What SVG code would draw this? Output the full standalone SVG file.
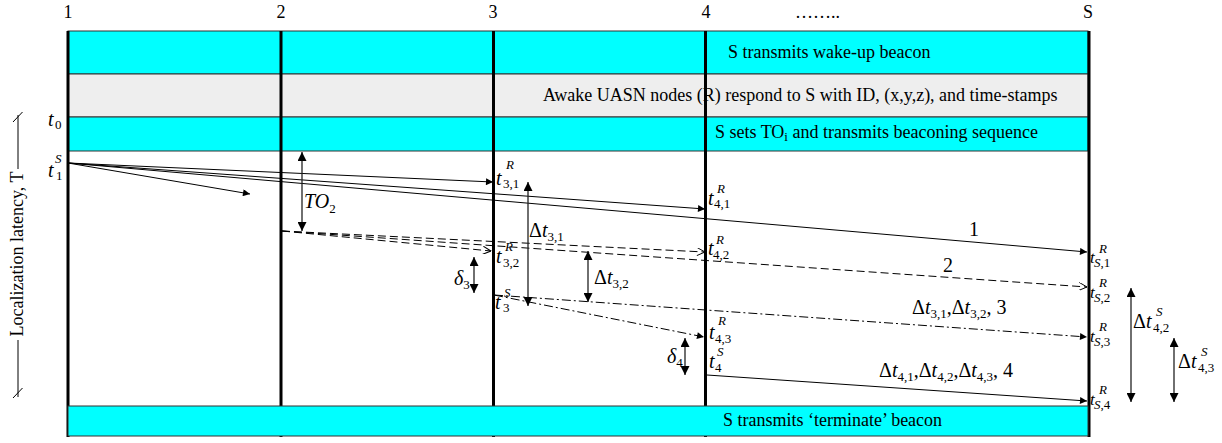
<svg xmlns="http://www.w3.org/2000/svg" width="1222" height="443" viewBox="0 0 1222 443">
<style>
text{font-family:"Liberation Serif","Times New Roman",serif;fill:#000}
.bc{fill:#00FFFF;stroke:#333;stroke-width:1}
.bg{fill:#EEEEEE;stroke:#333;stroke-width:1}
.vl{stroke:#000;stroke-width:3}
.ln{stroke:#000;stroke-width:1;fill:none}
.da{stroke-dasharray:8 4}
.dd{stroke-dasharray:9 3 2 3}
.va{stroke:#222;stroke-width:1.3;fill:none;marker-start:url(#vh);marker-end:url(#vh)}
.bt{font-size:18px}
.hd{font-size:18px;text-anchor:middle}
.it{font-style:italic}
.lb{font-size:20px}
.lr{font-size:17px}
.sm{font-size:13px}
</style>
<defs>
<marker id="af" viewBox="0 0 10 10" refX="10" refY="5" markerWidth="9" markerHeight="7" orient="auto" markerUnits="userSpaceOnUse"><path d="M0,0 L10,5 L0,10 z" fill="#000"/></marker>
<marker id="ao" viewBox="0 0 10 10" refX="10" refY="5" markerWidth="9" markerHeight="8" orient="auto" markerUnits="userSpaceOnUse"><path d="M0,0 L10,5 L0,10" fill="none" stroke="#000" stroke-width="1.2"/></marker>
<marker id="vh" viewBox="0 0 10 10" refX="10" refY="5" markerWidth="11" markerHeight="9" orient="auto-start-reverse" markerUnits="userSpaceOnUse"><path d="M0,0 L10,5 L0,10 z" fill="#000"/></marker>
</defs>

<g id="headers">
<text class="hd" x="68" y="18">1</text>
<text class="hd" x="281" y="18">2</text>
<text class="hd" x="493" y="18">3</text>
<text class="hd" x="706" y="18">4</text>
<text x="795" y="18" style="font-size:18px">……..</text>
<text class="hd" x="1088" y="18">S</text>
</g>

<g id="top-bands">
<rect class="bc" x="68" y="31" width="1020" height="43"/>
<rect class="bg" x="68" y="74" width="1020" height="43"/>
<rect class="bc" x="68" y="117" width="1020" height="34"/>
<text class="bt" x="728" y="58">S transmits wake-up beacon</text>
<text class="bt" x="543" y="101">Awake UASN nodes (R) respond to S with ID, (x,y,z), and time-stamps</text>
<text class="bt" x="715" y="138">S sets TO<tspan class="sm" dy="3">i</tspan><tspan dy="-3"> and transmits beaconing sequence</tspan></text>
</g>

<g id="node-lines">
<line class="vl" x1="68" y1="31" x2="68" y2="437"/>
<line class="vl" x1="281" y1="31" x2="281" y2="437"/>
<line class="vl" x1="493.5" y1="31" x2="493.5" y2="437"/>
<line class="vl" x1="705.5" y1="31" x2="705.5" y2="437"/>
<line class="vl" x1="1089" y1="31" x2="1089" y2="437"/>
</g>

<g id="bottom-band">
<rect class="bc" x="68" y="406" width="1020" height="30"/>
<text class="bt" x="723" y="426">S transmits ‘terminate’ beacon</text>
</g>

<g id="axis">
<line class="ln" x1="18" y1="115" x2="18" y2="169"/>
<line class="ln" x1="13" y1="122" x2="22.5" y2="112"/>
<line class="ln" x1="18" y1="340" x2="18" y2="397"/>
<line class="ln" x1="13" y1="398" x2="22.5" y2="388"/>
<text transform="translate(23,254) rotate(-90)" text-anchor="middle" style="font-size:18px">Localization latency, T</text>
</g>

<g id="connectors">
<line class="ln" x1="68" y1="163" x2="493" y2="182" marker-end="url(#af)"/>
<line class="ln" x1="68" y1="163" x2="705" y2="209" marker-end="url(#af)"/>
<line class="ln" x1="68" y1="163" x2="1087" y2="252" marker-end="url(#af)"/>
<line class="ln" x1="68" y1="163" x2="250" y2="194" marker-end="url(#af)"/>
<line class="ln da" x1="282" y1="231" x2="491" y2="251" marker-end="url(#ao)"/>
<line class="ln da" x1="282" y1="231" x2="705" y2="252" marker-end="url(#ao)"/>
<line class="ln da" x1="282" y1="231" x2="1087" y2="287" marker-end="url(#ao)"/>
<line class="ln dd" x1="494" y1="295" x2="704" y2="337" marker-end="url(#af)"/>
<line class="ln dd" x1="494" y1="295" x2="1087" y2="337" marker-end="url(#af)"/>
<line class="ln" x1="707" y1="375" x2="1087" y2="401" marker-end="url(#af)"/>
<line class="va" x1="302" y1="152" x2="302" y2="231"/>
<line class="va" x1="528" y1="182" x2="528" y2="306"/>
<line class="va" x1="588" y1="251" x2="588" y2="302"/>
<line class="va" x1="474" y1="257" x2="474" y2="293"/>
<line class="va" x1="685" y1="338" x2="685" y2="375"/>
<line class="va" x1="1131" y1="288" x2="1131" y2="402"/>
<line class="va" x1="1174" y1="338" x2="1174" y2="402"/>
</g>

<g id="time-labels">
<text class="lb"><tspan class="it" x="48" y="126">t</tspan><tspan class="sm" x="55" y="129">0</tspan></text>
<text class="lb"><tspan class="it" x="48" y="177">t</tspan><tspan class="sm it" x="55" y="163">S</tspan><tspan class="sm" x="56" y="180">1</tspan></text>
<text class="lb"><tspan class="it" x="496" y="185">t</tspan><tspan class="sm it" x="506" y="169">R</tspan><tspan class="sm" x="503" y="188">3,1</tspan></text>
<text class="lb"><tspan class="it" x="708" y="205">t</tspan><tspan class="sm it" x="717" y="193">R</tspan><tspan class="sm" x="714" y="208">4,1</tspan></text>
<text class="lb"><tspan class="it" x="496" y="263">t</tspan><tspan class="sm it" x="505" y="251">R</tspan><tspan class="sm" x="503" y="267">3,2</tspan></text>
<text class="lb"><tspan class="it" x="708" y="255">t</tspan><tspan class="sm it" x="716" y="244">R</tspan><tspan class="sm" x="713" y="259">4,2</tspan></text>
<text class="lb"><tspan class="it" x="495" y="309">t</tspan><tspan class="sm it" x="504" y="297">S</tspan><tspan class="sm" x="503" y="312">3</tspan></text>
<text class="lb"><tspan class="it" x="709" y="339">t</tspan><tspan class="sm it" x="718" y="325">R</tspan><tspan class="sm" x="715" y="343">4,3</tspan></text>
<text class="lb"><tspan class="it" x="709" y="368">t</tspan><tspan class="sm it" x="717" y="356">S</tspan><tspan class="sm" x="715" y="372">4</tspan></text>
<text class="lr"><tspan class="it" x="1090" y="263">t</tspan><tspan class="sm it" x="1099" y="253">R</tspan><tspan class="sm" x="1094" y="267"><tspan class="it">S</tspan>,1</tspan></text>
<text class="lr"><tspan class="it" x="1090" y="298">t</tspan><tspan class="sm it" x="1099" y="287">R</tspan><tspan class="sm" x="1094" y="302"><tspan class="it">S</tspan>,2</tspan></text>
<text class="lr"><tspan class="it" x="1090" y="342">t</tspan><tspan class="sm it" x="1099" y="331">R</tspan><tspan class="sm" x="1094" y="346"><tspan class="it">S</tspan>,3</tspan></text>
<text class="lr"><tspan class="it" x="1090" y="405">t</tspan><tspan class="sm it" x="1099" y="394">R</tspan><tspan class="sm" x="1094" y="409"><tspan class="it">S</tspan>,4</tspan></text>
</g>

<g id="interval-labels">
<text class="lb" x="304" y="208"><tspan class="it">TO</tspan><tspan class="sm" dy="5">2</tspan></text>
<text class="lb" x="529" y="237">Δ<tspan class="it">t</tspan><tspan class="sm" dy="4">3,1</tspan></text>
<text class="lb" x="594" y="284">Δ<tspan class="it">t</tspan><tspan class="sm" dy="4">3,2</tspan></text>
<text class="lb" x="454" y="285"><tspan class="it">δ</tspan><tspan class="sm" dy="4">3</tspan></text>
<text class="lb" x="667" y="363"><tspan class="it">δ</tspan><tspan class="sm" dy="4">4</tspan></text>
<text class="lb"><tspan x="1133" y="328">Δ</tspan><tspan class="it">t</tspan><tspan class="sm it" x="1156" y="316">S</tspan><tspan class="sm" x="1153" y="332">4,2</tspan></text>
<text class="lb"><tspan x="1178" y="368">Δ</tspan><tspan class="it">t</tspan><tspan class="sm it" x="1201" y="356">S</tspan><tspan class="sm" x="1198" y="372">4,3</tspan></text>
</g>

<g id="path-labels">
<text class="lb" x="969" y="236">1</text>
<text class="lb" x="943" y="272">2</text>
<text class="lb" x="912" y="314">Δ<tspan class="it">t</tspan><tspan class="sm" dy="4">3,1</tspan><tspan dy="-4">,Δ</tspan><tspan class="it">t</tspan><tspan class="sm" dy="4">3,2</tspan><tspan dy="-4">, 3</tspan></text>
<text class="lb" x="879" y="377">Δ<tspan class="it">t</tspan><tspan class="sm" dy="4">4,1</tspan><tspan dy="-4">,Δ</tspan><tspan class="it">t</tspan><tspan class="sm" dy="4">4,2</tspan><tspan dy="-4">,Δ</tspan><tspan class="it">t</tspan><tspan class="sm" dy="4">4,3</tspan><tspan dy="-4">, 4</tspan></text>
</g>
</svg>
